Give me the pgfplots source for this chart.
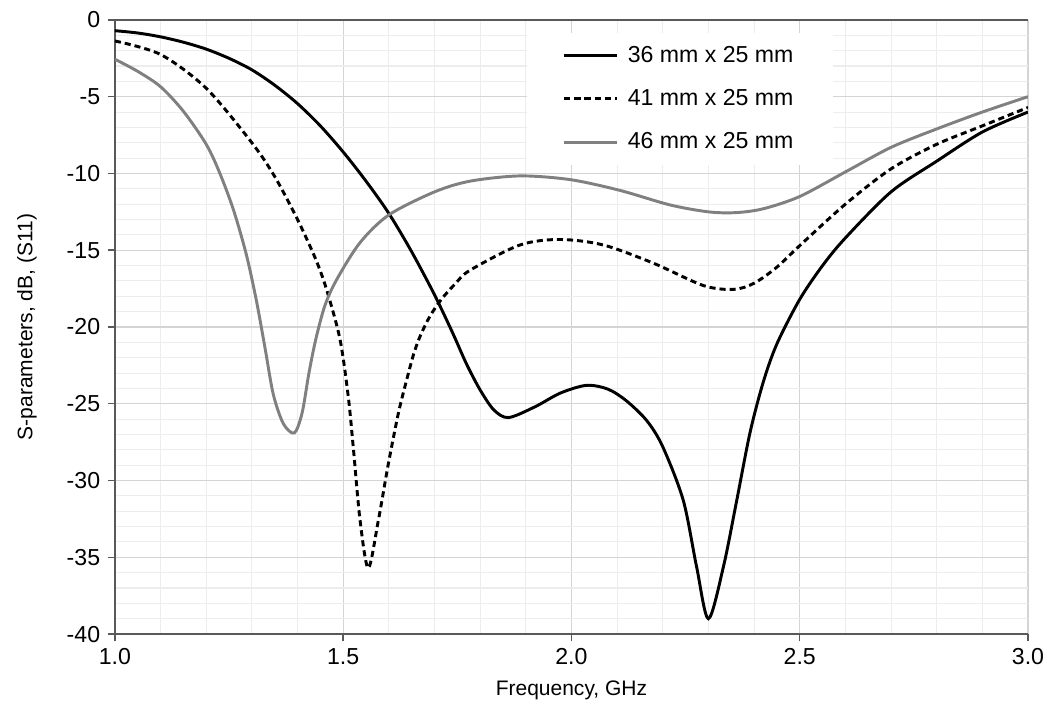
\documentclass[border=0pt]{standalone}
\usepackage{pgfplots}
\pgfplotsset{compat=1.18}
\usepackage{fontspec}
\setmainfont{Liberation Sans}

\definecolor{axisgray}{HTML}{595959}
\definecolor{majgrid}{HTML}{D4D4D4}
\definecolor{mingrid}{HTML}{EDEDED}
\definecolor{curvegray}{HTML}{808080}

\begin{document}
\begin{tikzpicture}
\begin{axis}[
    scale only axis,
    width=434.6pt,
    height=292.3pt,
    xmin=1, xmax=3,
    ymin=-40, ymax=0,
    xtick={1,1.5,...,3},
    ytick={-40,-35,...,0},
    minor x tick num=4,
    minor y tick num=4,
    grid=both,
    major grid style={majgrid, line width=0.5pt},
    minor grid style={mingrid, line width=0.5pt},
    axis x line=box,
    axis y line=left,
    axis line style={-, axisgray, line width=0.9pt},
    xtick pos=bottom,
    ytick pos=left,
    tick align=outside,
    major tick length=3.5pt,
    minor tick length=0pt,
    tick style={axisgray, line width=0.7pt},
    xticklabel style={/pgf/number format/fixed, /pgf/number format/precision=1, /pgf/number format/fixed zerofill},
    /pgf/number format/assume math mode=true,
    tick label style={font=\fontsize{11}{13}\selectfont, black},
    label style={font=\fontsize{10.3}{12}\selectfont},
    xlabel={Frequency, GHz},
    ylabel={S-parameters, dB, (S11)},
    every axis x label/.style={at={(axis description cs:0.5,-0.0912)}, anchor=center},
    every axis y label/.style={at={(axis description cs:-0.0964,0.5)}, anchor=center, rotate=90},
    legend style={at={(0.451,0.979)}, anchor=north west, draw=none, fill=white,
        inner xsep=17pt, inner ysep=4pt, row sep=7.5pt,
        font=\fontsize{11}{13}\selectfont, cells={anchor=west},
        /tikz/every odd column/.style={column sep=2.5pt}},
    legend image code/.code={\draw[#1] (0pt,0pt) -- (25pt,0pt);},
]
% 36 mm x 25 mm
\addplot[black, line width=1.4pt, smooth] coordinates {
(1.0,-0.7) (1.05,-0.85) (1.1,-1.1) (1.15,-1.45) (1.2,-1.9) (1.25,-2.5)
(1.3,-3.25) (1.35,-4.25) (1.4,-5.45)
(1.45,-6.9) (1.5,-8.6) (1.55,-10.5) (1.6,-12.6) (1.65,-15.1) (1.7,-17.9)
(1.74,-20.4) (1.77,-22.4) (1.8,-24.1) (1.83,-25.4) (1.862,-25.9) (1.92,-25.2)
(1.976,-24.3) (2.033,-23.8) (2.08,-24.05) (2.12,-24.8) (2.165,-26.1)
(2.20,-27.8) (2.245,-31.3) (2.274,-35.6) (2.30,-39.0) (2.333,-35.6)
(2.362,-31.3) (2.391,-26.9) (2.42,-23.6) (2.45,-21.1) (2.5,-18.2)
(2.55,-16.0) (2.6,-14.2) (2.7,-11.2) (2.8,-9.2) (2.9,-7.3) (3.0,-6.0)
};
\addlegendentry{36 mm x 25 mm}
% 41 mm x 25 mm
\addplot[black, line width=1.4pt, dash pattern=on 2.9pt off 1.9pt, smooth] coordinates {
(1.0,-1.37) (1.1,-2.25) (1.2,-4.45) (1.3,-8.0) (1.35,-10.2)
(1.4,-13.0) (1.44,-15.6) (1.464,-17.6) (1.493,-20.8) (1.511,-24.5)
(1.522,-27.8) (1.537,-32.6) (1.555,-35.7) (1.577,-32.6) (1.599,-28.9)
(1.621,-25.6) (1.639,-23.45) (1.655,-21.7) (1.67,-20.5) (1.69,-19.3)
(1.715,-18.2) (1.745,-17.2) (1.778,-16.3) (1.887,-14.66) (1.975,-14.3)
(2.07,-14.66) (2.18,-15.85) (2.289,-17.3) (2.355,-17.55) (2.4,-17.15)
(2.45,-16.1) (2.5,-14.7) (2.6,-12.0) (2.7,-9.7) (2.8,-8.1) (2.9,-6.9) (3.0,-5.7)
};
\addlegendentry{41 mm x 25 mm}
% 46 mm x 25 mm
\addplot[curvegray, line width=1.4pt, smooth] coordinates {
(1.0,-2.56) (1.05,-3.35) (1.1,-4.35) (1.15,-5.95) (1.2,-8.1) (1.23,-10.0)
(1.26,-12.4) (1.288,-15.3) (1.31,-18.3) (1.329,-21.4) (1.347,-24.4)
(1.369,-26.3) (1.393,-26.9) (1.41,-25.6) (1.425,-23.0) (1.44,-20.8)
(1.46,-18.6) (1.486,-16.9) (1.537,-14.5) (1.6,-12.7) (1.7,-11.2)
(1.778,-10.5) (1.887,-10.16) (1.997,-10.4) (2.106,-11.1) (2.216,-12.05)
(2.3,-12.5) (2.36,-12.55) (2.42,-12.3) (2.5,-11.5) (2.6,-9.9) (2.7,-8.3)
(2.8,-7.1) (2.9,-6.0) (3.0,-5.0)
};
\addlegendentry{46 mm x 25 mm}
\end{axis}
\pgfresetboundingbox
\path ([shift={(-54.7pt,-36.7pt)}]current axis.south west) rectangle ([shift={(8.1pt,9.5pt)}]current axis.north east);
\end{tikzpicture}
\end{document}
